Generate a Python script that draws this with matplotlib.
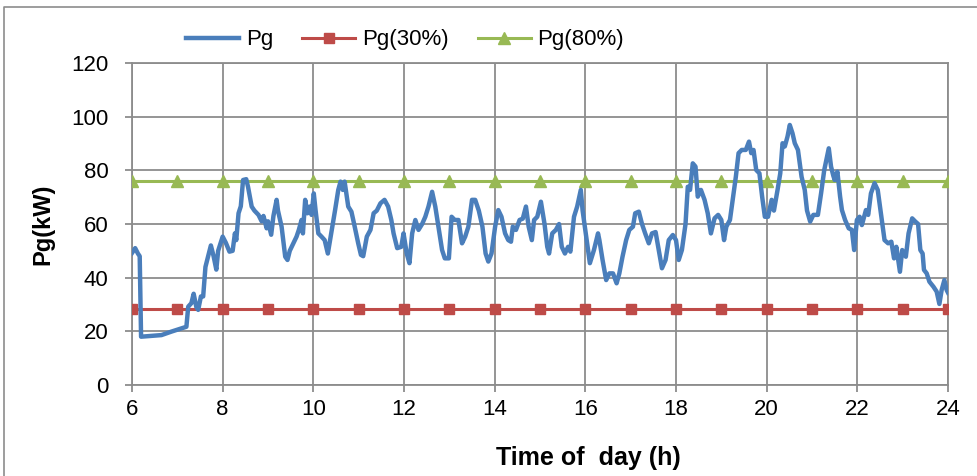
import matplotlib
matplotlib.use("Agg")
import matplotlib.pyplot as plt
from matplotlib.lines import Line2D

plt.rcParams['font.family'] = ['Liberation Sans', 'DejaVu Sans']

hours = [
    6.00, 6.07, 6.13, 6.17, 6.20, 6.65, 6.87, 7.20, 7.24, 7.31,
    7.36, 7.42, 7.46, 7.52, 7.57, 7.62, 7.68, 7.74, 7.80, 7.86,
    7.90, 8.00, 8.07, 8.15, 8.22, 8.27, 8.30, 8.35, 8.40, 8.45,
    8.52, 8.56, 8.64, 8.70, 8.79, 8.86, 8.90, 8.97, 9.00, 9.07,
    9.12, 9.19, 9.22, 9.30, 9.38, 9.43, 9.48, 9.56, 9.63, 9.68,
    9.74, 9.77, 9.82, 9.87, 9.92, 9.96, 10.01, 10.05, 10.11, 10.18,
    10.25, 10.32, 10.36, 10.41, 10.48, 10.55, 10.60, 10.65, 10.69, 10.77,
    10.84, 10.90, 10.99, 11.05, 11.10, 11.18, 11.26, 11.33, 11.40, 11.48,
    11.57, 11.65, 11.72, 11.77, 11.85, 11.94, 11.99, 12.06, 12.12, 12.18,
    12.25, 12.32, 12.40, 12.47, 12.54, 12.62, 12.69, 12.76, 12.84, 12.90,
    12.99, 13.05, 13.12, 13.20, 13.28, 13.35, 13.42, 13.50, 13.57, 13.65,
    13.73, 13.80, 13.86, 13.93, 14.01, 14.08, 14.15, 14.23, 14.30, 14.36,
    14.40, 14.47, 14.55, 14.62, 14.69, 14.75, 14.82, 14.87, 14.94, 15.02,
    15.10, 15.16, 15.20, 15.27, 15.35, 15.42, 15.48, 15.55, 15.62, 15.67,
    15.75, 15.82, 15.90, 15.94, 16.01, 16.10, 16.19, 16.28, 16.31, 16.38,
    16.46, 16.53, 16.61, 16.69, 16.75, 16.82, 16.90, 16.97, 17.05, 17.10,
    17.18, 17.25, 17.32, 17.40, 17.47, 17.55, 17.62, 17.69, 17.77, 17.84,
    17.93, 18.00, 18.06, 18.13, 18.21, 18.26, 18.31, 18.37, 18.43, 18.48,
    18.55, 18.63, 18.70, 18.77, 18.85, 18.93, 19.00, 19.06, 19.11, 19.19,
    19.25, 19.32, 19.38, 19.45, 19.54, 19.61, 19.66, 19.71, 19.77, 19.84,
    19.90, 19.96, 20.03, 20.11, 20.16, 20.24, 20.30, 20.35, 20.40, 20.46,
    20.51, 20.57, 20.62, 20.69, 20.77, 20.84, 20.89, 20.96, 21.03, 21.13,
    21.20, 21.27, 21.37, 21.42, 21.47, 21.50, 21.56, 21.62, 21.66, 21.73,
    21.81, 21.88, 21.93, 21.99, 22.05, 22.10, 22.19, 22.24, 22.30, 22.38,
    22.45, 22.53, 22.60, 22.68, 22.75, 22.81, 22.86, 22.94, 22.99, 23.07,
    23.13, 23.21, 23.28, 23.34, 23.39, 23.44, 23.47, 23.53, 23.59, 23.68,
    23.75, 23.81, 23.86, 23.92, 23.97, 24.00,
]

pg = [
    49.2, 51.0, 49.0, 48.0, 18.0, 18.6, 19.9, 21.7, 29.2, 30.5,
    34.0, 29.0, 28.0, 33.0, 33.0, 44.0, 48.0, 52.0, 48.0, 43.0,
    50.0, 55.3, 53.0, 49.7, 50.0, 56.5, 54.0, 64.0, 66.6, 76.4,
    76.7, 73.8, 66.5, 65.0, 63.4, 61.0, 63.0, 58.4, 61.0, 56.0,
    63.0, 69.0, 65.0, 59.0, 47.8, 46.6, 50.0, 52.8, 55.3, 57.8,
    61.5, 56.5, 69.0, 64.0, 66.5, 63.4, 71.4, 65.0, 56.5, 55.3,
    54.0, 49.0, 53.0, 57.8, 65.2, 72.7, 75.8, 72.7, 75.8, 66.5,
    64.6, 60.0, 52.8, 48.5, 48.0, 55.3, 57.8, 64.0, 65.0, 67.7,
    69.0, 66.5, 61.5, 56.5, 51.0, 51.5, 56.5, 49.0, 45.4, 56.5,
    61.5, 57.8, 60.0, 62.7, 66.5, 72.0, 66.5, 59.0, 50.3, 47.2,
    47.2, 62.7, 61.5, 61.5, 52.8, 55.3, 59.0, 69.0, 69.0, 65.0,
    59.0, 49.0, 46.0, 49.0, 59.0, 65.2, 62.7, 56.5, 54.0, 53.4,
    59.0, 57.8, 61.5, 62.0, 66.5, 59.0, 54.0, 61.5, 62.7, 68.3,
    60.0, 51.5, 49.0, 56.5, 57.8, 60.0, 51.5, 49.0, 51.5, 49.7,
    62.7, 66.5, 72.7, 65.0, 56.5, 45.4, 50.3, 56.5, 54.0, 46.6,
    39.1, 41.6, 41.6, 37.9, 41.6, 47.8, 54.0, 57.8, 59.0, 64.0,
    64.6, 60.0, 56.5, 52.8, 56.5, 57.0, 50.3, 43.5, 46.6, 54.0,
    55.9, 54.0, 46.6, 50.3, 60.0, 73.9, 72.7, 82.6, 81.4, 70.2,
    72.7, 69.0, 64.0, 56.5, 62.1, 63.4, 61.5, 54.0, 59.0, 61.5,
    69.0, 77.6, 86.4, 87.6, 87.6, 90.7, 86.4, 87.6, 80.1, 78.9,
    70.2, 62.7, 62.7, 69.0, 65.0, 72.7, 78.9, 90.1, 88.9, 92.6,
    96.9, 93.8, 90.1, 87.6, 77.6, 72.7, 65.0, 60.9, 63.4, 63.4,
    71.4, 80.1, 88.2, 81.4, 78.0, 76.4, 79.5, 70.2, 65.2, 61.5,
    58.4, 57.8, 50.3, 61.5, 62.7, 59.6, 65.2, 63.4, 71.4, 75.2,
    72.7, 62.7, 54.0, 52.8, 53.4, 47.2, 51.5, 42.2, 50.3, 47.8,
    56.5, 62.1, 60.9, 60.0, 50.3, 49.0, 42.9, 41.6, 38.5, 36.6,
    34.8, 30.2, 35.4, 39.1, 35.4, 34.4,
]

marker_hours = list(range(6, 25))
pg30_value = 28.5
pg80_value = 76.0
pg30 = [pg30_value] * len(marker_hours)
pg80 = [pg80_value] * len(marker_hours)

x_ticks = list(range(6, 25, 2))
y_ticks = list(range(0, 121, 20))

assert len(hours) == len(pg)

fig = plt.figure(figsize=(9.77, 4.76), dpi=100)
ax = fig.add_axes([132/977, 1-385/476, (948-132)/977, (385-63)/476])

grid_c = '#8c8c8c'
ax.plot(hours, pg, color='#4a7ebb', lw=3.2, label='Pg', zorder=4,
        solid_joinstyle='round')
ax.plot(marker_hours, pg30, color='#be4b48', lw=2.2, marker='s', ms=7.5,
        label='Pg(30%)', zorder=3)
ax.plot(marker_hours, pg80, color='#98b954', lw=2.2, marker='^', ms=8,
        label='Pg(80%)', zorder=3)

ax.set_xlim(6, 24)
ax.set_ylim(0, 120)
ax.set_xticks(x_ticks)
ax.set_yticks(y_ticks)
ax.grid(True, color=grid_c, lw=1.3)
ax.set_axisbelow(True)
for s in ax.spines.values():
    s.set_color(grid_c)
    s.set_linewidth(1.3)
ax.tick_params(axis='both', which='major', length=5, width=1.3, color=grid_c,
               labelsize=16, direction='out')
ax.tick_params(axis='x', pad=5)
ax.tick_params(axis='y', pad=12)

ax.set_ylabel('Pg(kW)', fontsize=17, fontweight='bold', labelpad=12)
fig.text(588/977, 1-458/476, 'Time of  day (h)', fontsize=18, fontweight='bold',
         ha='center', va='center')

fig.legend(loc='center', bbox_to_anchor=(405/977, 1-40/476), ncol=3,
           frameon=False, fontsize=16, handlelength=2.4, columnspacing=1.3,
           handletextpad=0.3)

fig.add_artist(Line2D([4/977, 4/977, 1.0], [0.0, 1-7/476, 1-7/476],
                      transform=fig.transFigure, color='#8c8c8c', lw=1.2))

fig.savefig('out.png', dpi=100)
